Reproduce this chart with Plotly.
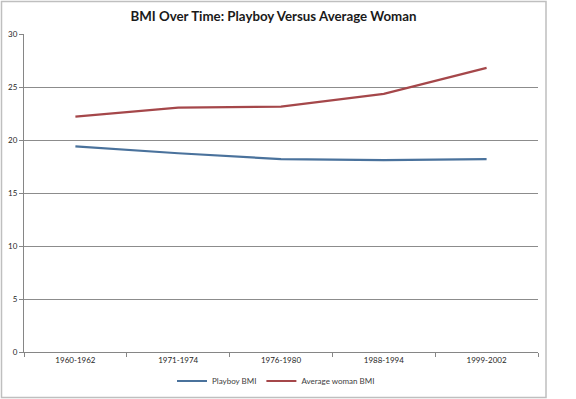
import plotly.graph_objects as go

periods = ["1960-1962", "1971-1974", "1976-1980", "1988-1994", "1999-2002"]
playboy_bmi = [19.4, 18.75, 18.2, 18.1, 18.2]
average_woman_bmi = [22.2, 23.05, 23.15, 24.35, 26.8]
y_ticks = [0, 5, 10, 15, 20, 25, 30]

W, H = 576, 399
L, R, T, B = 24, 38, 34, 47
pw, ph = W - L - R, H - T - B

def px_x(p):
    return (p - L) / pw

def px_y(p):
    return (H - B - p) / ph

fig = go.Figure()
fig.add_trace(go.Scatter(x=periods, y=playboy_bmi, mode="lines", name="Playboy BMI",
                         line=dict(color="#4A729C", width=2.2)))
fig.add_trace(go.Scatter(x=periods, y=average_woman_bmi, mode="lines", name="Average woman BMI",
                         line=dict(color="#A5474A", width=2.2)))

fig.update_layout(
    width=W, height=H,
    margin=dict(l=L, r=R, t=T, b=B, autoexpand=False),
    paper_bgcolor="white", plot_bgcolor="white",
    font=dict(family="Lato, Open Sans, sans-serif", size=8, color="#262626"),
    title=dict(text="<b>BMI Over Time: Playboy Versus Average Woman</b>",
               x=273.5 / W, xref="container", xanchor="center",
               y=1 - 16.5 / H, yref="container", yanchor="middle",
               font=dict(family="Lato, Open Sans, sans-serif", size=13.3, color="#1a1a1a")),
    showlegend=True,
    legend=dict(orientation="h", xref="container", yref="container",
                x=276 / W, xanchor="center", y=1 - 381 / H, yanchor="middle",
                font=dict(size=8, color="#404040"), itemwidth=30, bgcolor="rgba(0,0,0,0)"),
    xaxis=dict(type="category", showgrid=False, showline=True, linecolor="#868686", linewidth=1,
               ticks="outside", tickson="boundaries", ticklen=4, tickcolor="#868686",
               range=[-0.5, 4.5], fixedrange=True, zeroline=False, automargin=False),
    yaxis=dict(range=[0, 30], tickvals=y_ticks, showgrid=True, gridcolor="#8C8C8C", gridwidth=1,
               showline=True, linecolor="#868686", linewidth=1, ticks="outside", ticklen=4,
               tickcolor="#868686", zeroline=False, fixedrange=True, automargin=False),
)

fig.add_shape(type="rect", xref="paper", yref="paper",
              x0=px_x(1.5), x1=px_x(546), y0=px_y(397.5), y1=px_y(1.5),
              line=dict(color="#BFBFBF", width=1.5), fillcolor="rgba(0,0,0,0)", layer="below")

fig.write_html("out.html", config={"displayModeBar": False},
               post_script="document.body.style.margin='0';document.body.style.overflow='hidden';")
